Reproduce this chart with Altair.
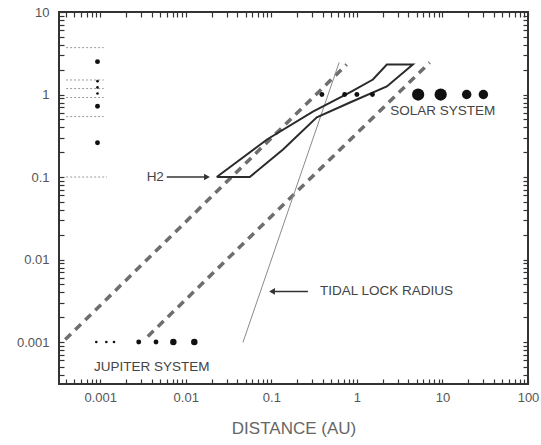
import altair as alt
import pandas as pd

# ---------------- data ----------------
x_major = [0.001, 0.01, 0.1, 1, 10, 100]
y_major = [0.001, 0.01, 0.1, 1, 10]
x_domain = [0.00033, 100]
y_domain = [0.00031, 10]

solar_names = ["Mercury", "Venus", "Earth", "Mars", "Jupiter", "Saturn", "Uranus", "Neptune"]
solar_au = [0.39, 0.72, 1.0, 1.52, 5.2, 9.54, 19.2, 30.1]
solar_mass = [1, 1, 1, 1, 1, 1, 1, 1]
solar_kind = ["small", "small", "small", "small", "huge", "huge", "large", "large"]

jup_names = ["Metis", "Amalthea", "Thebe", "Io", "Europa", "Ganymede", "Callisto"]
jup_au = [0.00090, 0.00118, 0.00145, 0.00282, 0.00449, 0.00716, 0.01259]
jup_mass = [0.001, 0.001, 0.001, 0.001, 0.001, 0.001, 0.001]
jup_kind = ["tiny", "tiny", "tiny", "small", "small", "medium", "medium"]

left_x = [0.00093, 0.00093, 0.00093, 0.00093, 0.00093, 0.00093]
left_y = [2.5, 1.45, 1.22, 1.03, 0.72, 0.26]
left_kind = ["small", "tiny", "tiny", "tiny", "small", "small"]

level_y = [3.7, 1.5, 1.18, 0.92, 0.54, 0.1]
level_x0 = [0.0004, 0.0004, 0.0004, 0.0004, 0.0004, 0.0004]
level_x1 = [0.0011, 0.0011, 0.0011, 0.0011, 0.0011, 0.0012]

dash_line = ["a", "a", "b", "b"]
dash_x = [0.00039, 0.76, 0.0036, 7.1]
dash_y = [0.00107, 2.31, 0.00117, 2.44]

tidal_x = [0.0466, 0.62]
tidal_y = [0.00099, 2.44]

h2_x = [0.023, 0.089, 0.306, 0.83, 1.54, 2.24, 4.51, 2.24, 0.83, 0.34, 0.137, 0.056, 0.023]
h2_y = [0.1, 0.285, 0.62, 1.06, 1.52, 2.31, 2.31, 1.25, 0.80, 0.53, 0.215, 0.1, 0.1]

arrow_name = ["h2", "h2", "tidal", "tidal"]
arrow_x = [0.0060, 0.0177, 0.268, 0.102]
arrow_y = [0.1, 0.1, 0.0041, 0.0041]
head_x = [0.0177, 0.102]
head_y = [0.1, 0.0041]
head_shape = ["triangle-right", "triangle-left"]

label_text = ["H2", "TIDAL LOCK RADIUS", "SOLAR SYSTEM", "JUPITER SYSTEM"]
label_x = [0.0044, 0.37, 10.1, 0.0040]
label_y = [0.1, 0.0041, 0.64, 0.00050]
label_align = ["center", "left", "center", "center"]

# dot area (px^2) for each kind of body
kind_sizes = {"tiny": 7, "small": 24, "medium": 42, "large": 90, "huge": 150}

# ---------------- tables ----------------
solar = pd.DataFrame({"name": solar_names, "x": solar_au, "y": solar_mass, "kind": solar_kind})
jup = pd.DataFrame({"name": jup_names, "x": jup_au, "y": jup_mass, "kind": jup_kind})
dots = pd.concat([solar, jup,
                  pd.DataFrame({"name": "mark", "x": left_x, "y": left_y, "kind": left_kind})],
                 ignore_index=True)
levels = pd.DataFrame({"x0": level_x0, "x1": level_x1, "y": level_y})
dashes = pd.DataFrame({"line": dash_line, "x": dash_x, "y": dash_y})
tidal = pd.DataFrame({"x": tidal_x, "y": tidal_y})
h2 = pd.DataFrame({"x": h2_x, "y": h2_y, "o": list(range(len(h2_x)))})
arrows = pd.DataFrame({"a": arrow_name, "x": arrow_x, "y": arrow_y})
heads = pd.DataFrame({"x": head_x, "y": head_y, "shape": head_shape})
labels = pd.DataFrame({"t": label_text, "x": label_x, "y": label_y, "al": label_align})

x_ticks = [k * d for d in [0.0001] + x_major for k in range(1, 10) if x_domain[0] <= k * d <= x_domain[1]]
y_ticks = [k * d for d in [0.0001] + y_major for k in range(1, 10) if y_domain[0] <= k * d <= y_domain[1]]

FONT = "Liberation Sans"
LBL = "abs(log(datum.value)/LN10 - round(log(datum.value)/LN10)) < 0.01 ? format(datum.value, '~g') : ''"

xs = alt.Scale(type="log", domain=x_domain, nice=False)
ys = alt.Scale(type="log", domain=y_domain, nice=False)

x_axis = alt.Axis(values=x_ticks, labelExpr=LBL, tickSize=5, offset=-5, domain=False, grid=False,
                  title="DISTANCE (AU)", titleFont=FONT, titleFontSize=17, titleFontWeight="normal",
                  titleColor="#666666", titlePadding=16, labelFont=FONT, labelFontSize=13,
                  labelColor="#555555", labelPadding=7, tickColor="#333333", tickWidth=1.2,
                  labelOverlap=False, labelFlush=False, labelBound=False)
y_axis = alt.Axis(values=y_ticks, labelExpr=LBL, tickSize=5, offset=-5, domain=False, grid=False,
                  title=None, labelFont=FONT, labelFontSize=13, labelColor="#555555", labelPadding=10,
                  tickColor="#333333", tickWidth=1.2, labelOverlap=False, labelFlush=False, labelBound=False)
x_top = alt.Axis(values=x_ticks, orient="top", labels=False, tickSize=5, offset=-5, domain=False,
                 grid=False, title=None, tickColor="#333333", tickWidth=1.2)
y_right = alt.Axis(values=y_ticks, orient="right", labels=False, tickSize=5, offset=-5, domain=False,
                   grid=False, title=None, tickColor="#333333", tickWidth=1.2)

def X(field="x", axis=None):
    return alt.X(f"{field}:Q", scale=xs, axis=axis)

def Y(field="y", axis=None):
    return alt.Y(f"{field}:Q", scale=ys, axis=axis)

frame_axes = alt.Chart(solar).mark_point(opacity=0).encode(x=X(axis=x_top), y=Y(axis=y_right))

level_layer = alt.Chart(levels).mark_rule(color="#9a9a9a", strokeWidth=1, strokeDash=[2, 2]).encode(
    x=X("x0"), x2="x1:Q", y=Y())

dash_layer = alt.Chart(dashes).mark_line(color="#6e6e6e", strokeWidth=3.5, strokeDash=[8, 6]).encode(
    x=X(axis=x_axis), y=Y(axis=y_axis), detail="line:N")

tidal_layer = alt.Chart(tidal).mark_line(color="#8a8a8a", strokeWidth=1).encode(x=X(), y=Y())

h2_layer = alt.Chart(h2).mark_line(color="#2b2b2b", strokeWidth=2, strokeJoin="miter").encode(
    x=X(), y=Y(), order="o:Q")

dot_layers = [
    alt.Chart(dots).transform_filter(alt.datum.kind == k).mark_circle(
        color="#111111", opacity=1, size=s).encode(x=X(), y=Y())
    for k, s in kind_sizes.items()
]

arrow_layer = alt.Chart(arrows).mark_line(color="#333333", strokeWidth=1.5).encode(
    x=X(), y=Y(), detail="a:N")

head_layer = alt.Chart(heads).mark_point(filled=True, color="#333333", size=45, opacity=1).encode(
    x=X(), y=Y(), shape=alt.Shape("shape:N", scale=None))

text_center = alt.Chart(labels[labels.al == "center"]).mark_text(
    font=FONT, fontSize=13.5, color="#444444", baseline="middle", align="center").encode(
    x=X(), y=Y(), text="t:N")
text_left = alt.Chart(labels[labels.al == "left"]).mark_text(
    font=FONT, fontSize=13.5, color="#444444", baseline="middle", align="left").encode(
    x=X(), y=Y(), text="t:N")

chart = alt.layer(
    frame_axes, level_layer, dash_layer, tidal_layer, h2_layer, *dot_layers,
    arrow_layer, head_layer, text_center, text_left
).resolve_axis(x="independent", y="independent").properties(
    width=469, height=372,
    autosize=alt.AutoSizeParams(type="none"),
    padding={"left": 59, "top": 12, "right": 13, "bottom": 61},
    background="white",
).configure_view(stroke="#333333", strokeWidth=2)

chart.save("out.html", embed_options={"renderer": "svg", "actions": False})
